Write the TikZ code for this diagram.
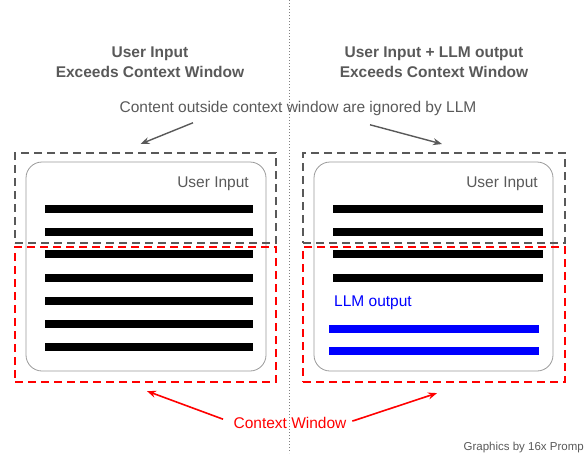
\documentclass[tikz,border=0pt]{standalone}
\usepackage{fontspec}
\setmainfont{Liberation Sans}
\usetikzlibrary{arrows.meta}
\definecolor{txtgray}{HTML}{595959}
\definecolor{boxgray}{HTML}{9A9A9A}
\definecolor{ctxred}{HTML}{FF0000}
\definecolor{llmblue}{HTML}{0000FF}
\begin{document}
\begin{tikzpicture}[x=1pt, y=-1pt,
    every node/.style={align=center, font=\fontsize{15.5}{20}\selectfont},
    title/.style={font=\fontsize{15.5}{20}\selectfont\bfseries, text=txtgray},
    outbox/.style={draw=txtgray, line width=2pt, dash pattern=on 8pt off 5pt, minimum height=90pt, inner sep=0pt},
    ctxbox/.style={draw=ctxred, line width=2.2pt, dash pattern=on 8pt off 5pt, minimum height=135pt, inner sep=0pt},
    msgbox/.style={draw=boxgray, line width=0.8pt, rounded corners=16pt, minimum height=209pt, inner sep=0pt},
    grayarrow/.style={-{Stealth[length=9pt,width=7pt]}, line width=1.4pt, draw=txtgray},
    redarrow/.style={-{Stealth[length=9pt,width=7pt]}, line width=1.6pt, draw=ctxred}]
    \useasboundingbox (0,0) rectangle (585,453);

    \draw[gray, line width=1pt, dash pattern=on 1pt off 2pt] (289,0) -- (289,453);

    % titles
    \node[title] (titleL) at (150,62) {User Input\\Exceeds Context Window};
    \node[title] (titleR) at (434,62) {User Input + LLM output\\Exceeds Context Window};
    \node[text=txtgray] (ignored) at (298,108) {Content outside context window are ignored by LLM};

    % left: user input only
    \node[msgbox, minimum width=240pt] (boxL) at (146,266.5) {};
    \node[anchor=east, inner sep=0pt, text=txtgray] (userL) at (249,184) {User Input};
    \foreach \y in {209,232,254,278,301,324,347}
        \draw[line width=8pt] (45,\y) -- (253,\y);
    \node[outbox, minimum width=261pt] (outL) at (145.5,198) {};
    \node[ctxbox, minimum width=261pt] (ctxL) at (145.5,314.5) {};

    % right: user input + llm output
    \node[msgbox, minimum width=239pt] (boxR) at (433.5,266.5) {};
    \node[anchor=east, inner sep=0pt, text=txtgray] (userR) at (538,184) {User Input};
    \foreach \y in {209,232,254,278}
        \draw[line width=8pt] (333,\y) -- (543,\y);
    \node[anchor=west, inner sep=0pt, text=llmblue] (llm) at (334,303) {LLM output};
    \foreach \y in {329,351}
        \draw[llmblue, line width=8pt] (329,\y) -- (539,\y);
    \node[outbox, minimum width=262pt] (outR) at (434,198) {};
    \node[ctxbox, minimum width=262pt] (ctxR) at (434,314.5) {};

    \draw[grayarrow] ([xshift=-105pt, yshift=-4pt]ignored.south) -- ([xshift=-5pt, yshift=8pt]outL.north);
    \draw[grayarrow] ([xshift=72pt, yshift=-6pt]ignored.south) -- ([xshift=8pt, yshift=8pt]outR.north);

    % context window label
    \node[text=ctxred, inner sep=0pt] (ctx) at (290,423) {Context Window};
    \draw[redarrow, shorten <=11pt] (ctx.west) -- ([xshift=1.5pt, yshift=-8pt]ctxL.south);
    \draw[redarrow, shorten <=6pt] (ctx.east) -- ([xshift=3pt, yshift=-10pt]ctxR.south);

    \node[anchor=base east, inner sep=0pt, text=txtgray, font=\fontsize{11.5}{13}\selectfont] (credit) at (584,450) {Graphics by 16x Promp};
\end{tikzpicture}
\end{document}
